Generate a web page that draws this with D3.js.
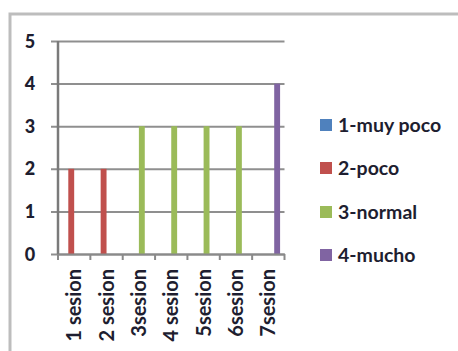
<!DOCTYPE html>
<html><head><meta charset="utf-8">
<script src="https://cdn.jsdelivr.net/npm/d3@7/dist/d3.min.js"></script>
<style>html,body{margin:0;padding:0;background:#fff;}svg{display:block;}</style>
</head><body>
<script>
const categories = ["1 sesion","2 sesion","3sesion","4 sesion","5sesion","6sesion","7sesion"];
const seriesNames = ["1-muy poco","2-poco","3-normal","4-mucho"];
const seriesColors = ["#4F81BD","#C0504D","#9BBB59","#8064A2"];
const muyPoco = [0,0,0,0,0,0,0];
const poco    = [2,2,0,0,0,0,0];
const normal  = [0,0,3,3,3,3,0];
const mucho   = [0,0,0,0,0,0,4];
const yTicks = [0,1,2,3,4,5];
const seriesValues = [muyPoco, poco, normal, mucho];

(function(){
const W = 458, H = 351;
const svg = d3.select("body").append("svg").attr("width", W).attr("height", H);
const font = "Lato, 'Open Sans', sans-serif";
const txt = "#1e1e30";

// frame
svg.append("rect").attr("x",10).attr("y",14).attr("width",460).attr("height",360)
  .attr("fill","#fff").attr("stroke","#bdbdbd").attr("stroke-width",3);

const pLeft = 58, pRight = 284.5, pTop = 41, pBottom = 254;
const x = d3.scaleBand().domain(categories).range([pLeft, pRight]).padding(0);
const xs = d3.scaleBand().domain(seriesNames).range([0, x.bandwidth()]).paddingInner(0).paddingOuter(0.75);
const y = d3.scaleLinear().domain([0,5]).range([pBottom, pTop]);

// y gridlines + ticks
const gy = svg.append("g").attr("transform", `translate(${pLeft},0)`)
  .call(d3.axisLeft(y).tickValues(yTicks).tickSize(0).tickFormat(d3.format("d")));
gy.select(".domain").remove();
gy.selectAll(".tick line").attr("x1",-7).attr("x2", pRight-pLeft).attr("stroke","#8f8f8f").attr("stroke-width",2);
gy.selectAll(".tick text").attr("x",-28).attr("dy","0.34em").attr("text-anchor","middle")
  .style("font-family",font).style("font-weight","900").style("font-size","18px").attr("fill",txt);

// bars
seriesNames.forEach((s, si) => {
  svg.append("g").selectAll("rect").data(categories.map((c,i)=>({c, v: seriesValues[si][i]})).filter(d=>d.v>0))
    .join("rect")
    .attr("x", d => x(d.c) + xs(s))
    .attr("y", d => y(d.v))
    .attr("width", xs.bandwidth())
    .attr("height", d => y(0) - y(d.v))
    .attr("fill", seriesColors[si]);
});

// y axis line
svg.append("line").attr("x1",pLeft).attr("x2",pLeft).attr("y1",pTop).attr("y2",pBottom)
  .attr("stroke","#7a7a7a").attr("stroke-width",2.5);

// x axis
const gx = svg.append("g").attr("transform", `translate(0,${pBottom})`)
  .call(d3.axisBottom(x).tickSize(0).tickFormat(d => d));
gx.select(".domain").attr("stroke","#8a8a8a").attr("stroke-width",2);
gx.selectAll(".tick text")
  .attr("transform","rotate(-90)")
  .attr("x",-15).attr("y",0).attr("dy","0.35em").attr("text-anchor","end")
  .style("font-family",font).style("font-weight","bold").style("font-size","20px").attr("fill",txt);
// category boundary ticks
const bounds = categories.map(c => x(c)).concat([pRight]);
svg.append("g").selectAll("line").data(bounds).join("line")
  .attr("x1", d=>d).attr("x2", d=>d).attr("y1", pBottom).attr("y2", pBottom+6)
  .attr("stroke","#8a8a8a").attr("stroke-width",2);

// legend
const legendY = [125, 168, 212, 255];
const lg = svg.append("g").selectAll("g").data(seriesNames).join("g")
  .attr("transform", (d,i)=>`translate(320,${legendY[i]})`);
lg.append("rect").attr("x",0).attr("y",-6).attr("width",12).attr("height",12)
  .attr("fill", (d,i)=>seriesColors[i]);
lg.append("text").attr("x",18).attr("y",0).attr("dy","0.35em").text(d=>d)
  .style("font-family",font).style("font-weight","bold").style("font-size","19.5px").attr("fill",txt);
})();
</script>
</body></html>
